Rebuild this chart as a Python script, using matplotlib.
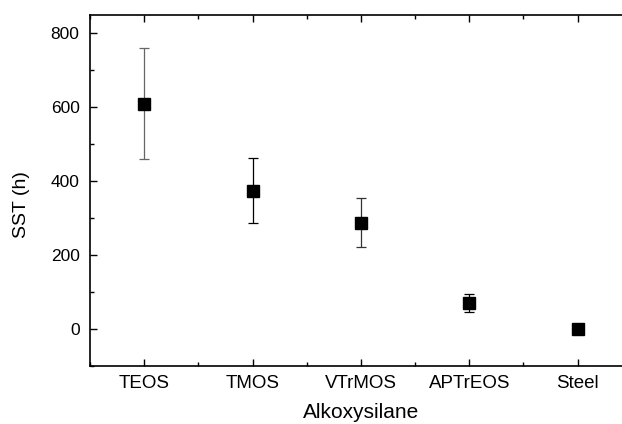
import numpy as np
import matplotlib
matplotlib.use('Agg')
import matplotlib.pyplot as plt
from matplotlib.ticker import MultipleLocator

# data
silanes = ['TEOS', 'TMOS', 'VTrMOS', 'APTrEOS', 'Steel']
sst = [610, 375, 288, 70, 0]
sst_err = [150, 87, 67, 25, 0]
err_colors = ['#666666', 'black', '#333333', 'black', 'black']

plt.rcParams['font.family'] = ['Liberation Sans', 'DejaVu Sans']

fig = plt.figure(figsize=(6.22, 4.24), dpi=100)
ax = fig.add_axes([0.1447, 0.1368, 0.871, 0.8278])

x = np.arange(len(silanes))
for i in range(len(silanes)):
    if sst_err[i] > 0:
        ax.errorbar(x[i], sst[i], yerr=sst_err[i], fmt='none', ecolor=err_colors[i],
                    elinewidth=0.9, capsize=3.5, capthick=0.9, zorder=2)
ax.plot(x, sst, 's', color='black', markersize=8.5, zorder=3)

ax.set_xlim(-0.5, 4.5)
ax.set_ylim(-100, 850)
ax.set_xticks(x)
ax.set_xticklabels(silanes)
ax.xaxis.set_minor_locator(MultipleLocator(0.5))
ax.set_yticks([0, 200, 400, 600, 800])
ax.yaxis.set_minor_locator(MultipleLocator(100))

ax.tick_params(which='both', direction='in', top=True, right=False, width=1.0)
ax.tick_params(which='major', length=5)
ax.tick_params(which='minor', length=3)
ax.tick_params(axis='x', labelsize=13.5, pad=6.5)
ax.tick_params(axis='y', labelsize=12.5, pad=7.5)

for s in ax.spines.values():
    s.set_linewidth(1.2)

ax.set_xlabel('Alkoxysilane', fontsize=15)
ax.set_ylabel('SST (h)', fontsize=14)
ax.xaxis.set_label_coords(0.5, -0.105)
ax.yaxis.set_label_coords(-0.11, 0.46)

plt.savefig('out.png', dpi=100)
